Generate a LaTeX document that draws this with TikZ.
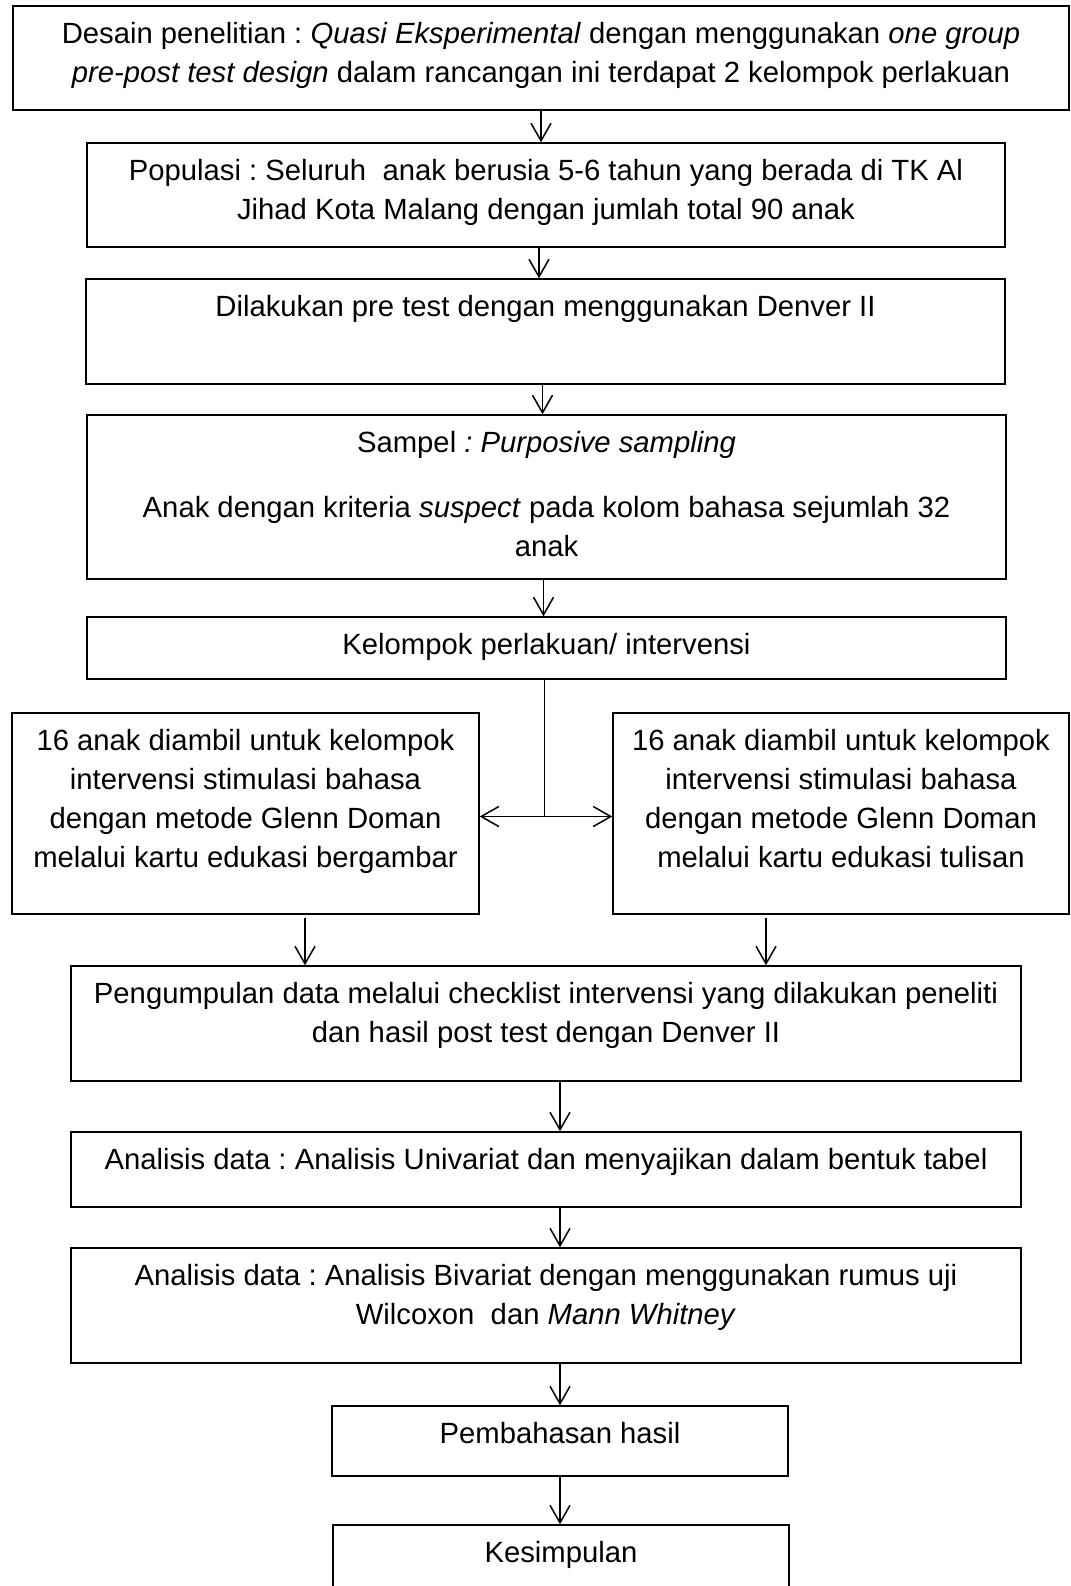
\documentclass[tikz,border=0pt]{standalone}
\usepackage{fontspec}
\setmainfont{Liberation Sans}
\usetikzlibrary{positioning,arrows.meta}
\frenchspacing

\begin{document}
\begin{tikzpicture}[x=0.4pt,y=-0.4pt]
% Box, text and arrow style
\tikzset{
    box/.style={draw,line width=0.6pt,inner sep=0pt},
    txt/.style={align=flush center,text width=420pt,inner sep=0pt,font=\fontsize{11.7}{15.6}\selectfont,execute at begin node=\strut},
    arr/.style={-{Straight Barb[length=7pt,width=8pt]},line width=0.6pt}
}
\clip (0,0) rectangle (1071,1586);
% Boxes
\node[box,minimum width=422.4pt,minimum height=41.6pt] (design) at (541,58){};
\node[box,minimum width=367.2pt,minimum height=41.6pt] (pop) at (546,195){};
\node[box,minimum width=367.6pt,minimum height=42pt] (pre) at (545.5,331.5){};
\node[box,minimum width=367.6pt,minimum height=65.6pt] (sampel) at (546.5,497){};
\node[box,minimum width=367.6pt,minimum height=24.8pt] (kel) at (546.5,648){};
\node[box,minimum width=186.8pt,minimum height=80.4pt] (gambar) at (245.5,813.5){};
\node[box,minimum width=182.4pt,minimum height=80.4pt] (tulis) at (841,813.5){};
\node[box,minimum width=380pt,minimum height=46pt] (kumpul) at (546,1023.5){};
\node[box,minimum width=380pt,minimum height=30pt] (univ) at (546,1169.5){};
\node[box,minimum width=380pt,minimum height=46pt] (biv) at (546,1305.5){};
\node[box,minimum width=182.4pt,minimum height=28pt] (bahas) at (560,1441){};
\node[box,minimum width=182.4pt,minimum height=30pt] (simpul) at (561,1562.5){};
% Texts
\node[txt,below=4.3pt of design.north] (tdesign){Desain penelitian : \textit{Quasi Eksperimental} dengan menggunakan \textit{one group}\\\textit{pre-post test design} dalam rancangan ini terdapat 2 kelompok perlakuan};
\node[txt,below=4.3pt of pop.north] (tpop){Populasi : Seluruh \ anak berusia 5-6 tahun yang berada di TK Al\\Jihad Kota Malang dengan jumlah total 90 anak};
\node[txt,below=4.3pt of pre.north] (tpre){Dilakukan pre test dengan menggunakan Denver II};
\node[txt,below=4.3pt of sampel.north] (tsampel){Sampel \textit{: Purposive sampling}\\[10.4pt]Anak dengan kriteria \textit{suspect} pada kolom bahasa sejumlah 32\\anak};
\node[txt,below=4.3pt of kel.north] (tkel){Kelompok perlakuan/ intervensi};
\node[txt,below=4.3pt of gambar.north] (tgambar){16 anak diambil untuk kelompok\\intervensi stimulasi bahasa\\dengan metode Glenn Doman\\melalui kartu edukasi bergambar};
\node[txt,below=4.3pt of tulis.north] (ttulis){16 anak diambil untuk kelompok\\intervensi stimulasi bahasa\\dengan metode Glenn Doman\\melalui kartu edukasi tulisan};
\node[txt,below=4.3pt of kumpul.north] (tkumpul){Pengumpulan data melalui checklist intervensi yang dilakukan peneliti\\dan hasil post test dengan Denver II};
\node[txt,below=4.3pt of univ.north] (tuniv){Analisis data : Analisis Univariat dan menyajikan dalam bentuk tabel};
\node[txt,below=4.3pt of biv.north] (tbiv){Analisis data : Analisis Bivariat dengan menggunakan rumus uji\\Wilcoxon \ dan \textit{Mann Whitney}};
\node[txt,below=4.3pt of bahas.north] (tbahas){Pembahasan hasil};
\node[txt,below=4.3pt of simpul.north] (tsimpul){Kesimpulan};
% Arrows
\draw[arr] (design.south) -- (design.south |- pop.north);
\draw[arr] ([shift={(-7,0)}]pop.south) -- ([shift={(-7,0)}]pop.south |- pre.north);
\draw[arr] ([shift={(-3,0)}]pre.south) -- ([shift={(-3,0)}]pre.south |- sampel.north);
\draw[arr] ([shift={(-3,0)}]sampel.south) -- ([shift={(-3,0)}]sampel.south |- kel.north);
\coordinate (split) at ([shift={(-2,3)}]kel.south |- gambar.east);
\draw ([shift={(-2,0)}]kel.south) -- (split);
\draw[arr] (split) -- (gambar.east |- split);
\draw[arr] (split) -- (tulis.west |- split);
\draw[arr] ([shift={(59.5,3)}]gambar.south) -- ([shift={(59.5,0)}]gambar.south |- kumpul.north);
\draw[arr] ([shift={(-75,3)}]tulis.south) -- ([shift={(-75,0)}]tulis.south |- kumpul.north);
\draw[arr] (kumpul.south -| bahas) -- (univ.north -| bahas);
\draw[arr] (univ.south -| bahas) -- (biv.north -| bahas);
\draw[arr] (biv.south -| bahas) -- (bahas.north);
\draw[arr] (bahas.south) -- (bahas.south |- simpul.north);
\end{tikzpicture}
\end{document}
